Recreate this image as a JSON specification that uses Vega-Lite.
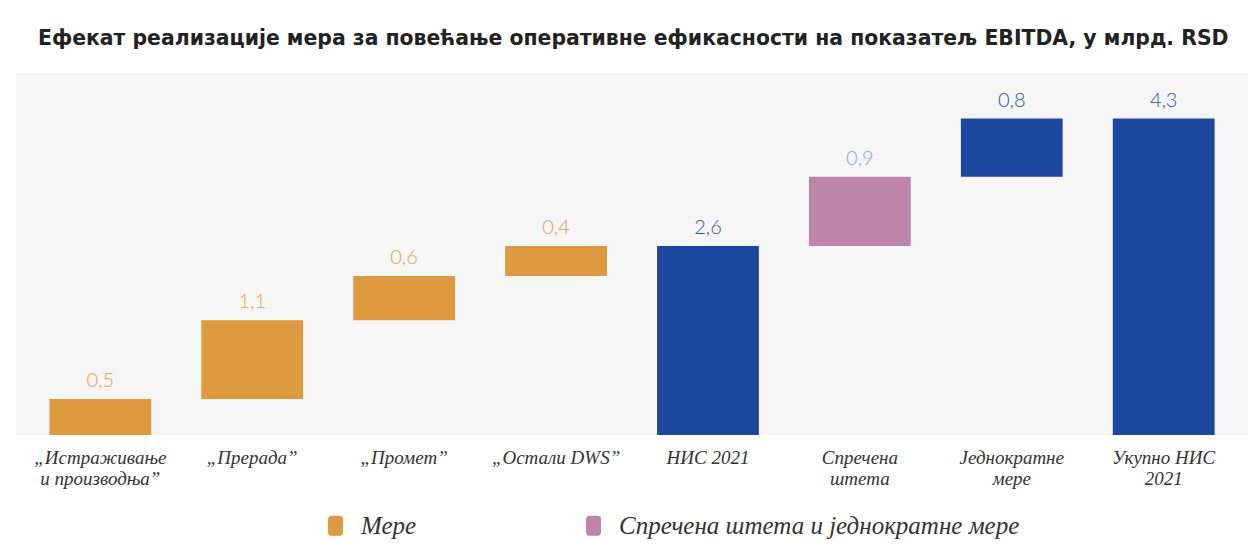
{
  "$schema": "https://vega.github.io/schema/vega-lite/v6.json",
  "width": 1232,
  "height": 362,
  "autosize": {"type": "none"},
  "padding": {"left": 16, "top": 73, "right": 1, "bottom": 117},
  "background": "#ffffff",
  "title": {
    "text": "Ефекат реализације мера за повећање оперативне ефикасности на показатељ EBITDA, у млрд. RSD",
    "anchor": "start",
    "frame": "group",
    "dx": 22,
    "offset": 24,
    "font": "DejaVu Sans",
    "fontWeight": "bold",
    "fontSize": 20.4,
    "color": "#222222"
  },
  "config": {
    "view": {"fill": "#f5f6f5", "stroke": null}
  },
  "data": {
    "values": [
      {"cat": "„Истраживање|и производња”", "start": 0, "end": 0.49, "value": "0,5", "group": "Мере"},
      {"cat": "„Прерада”", "start": 0.49, "end": 1.56, "value": "1,1", "group": "Мере"},
      {"cat": "„Промет”", "start": 1.56, "end": 2.16, "value": "0,6", "group": "Мере"},
      {"cat": "„Остали DWS”", "start": 2.16, "end": 2.57, "value": "0,4", "group": "Мере"},
      {"cat": "НИС 2021", "start": 0, "end": 2.57, "value": "2,6", "group": "НИС"},
      {"cat": "Спречена|штета", "start": 2.57, "end": 3.51, "value": "0,9", "group": "Спречена штета и једнократне мере"},
      {"cat": "Једнократне|мере", "start": 3.51, "end": 4.3, "value": "0,8", "group": "Једнократне"},
      {"cat": "Укупно НИС|2021", "start": 0, "end": 4.3, "value": "4,3", "group": "Укупно"}
    ]
  },
  "encoding": {
    "x": {
      "field": "cat",
      "type": "nominal",
      "sort": null,
      "scale": {"paddingInner": 0.33, "paddingOuter": 0.22},
      "axis": {
        "title": null,
        "domain": false,
        "ticks": false,
        "labelAngle": 0,
        "labelPadding": 13,
        "labelFont": "Liberation Serif",
        "labelFontStyle": "italic",
        "labelFontSize": 19,
        "labelColor": "#333333",
        "labelLineHeight": 21,
        "labelExpr": "split(datum.label, '|')"
      }
    }
  },
  "layer": [
    {
      "mark": {"type": "bar", "opacity": 1},
      "encoding": {
        "y": {
          "field": "start",
          "type": "quantitative",
          "scale": {"domain": [0, 4.92], "nice": false},
          "axis": null
        },
        "y2": {"field": "end"},
        "color": {
          "field": "group",
          "type": "nominal",
          "scale": {
            "domain": ["Мере", "Спречена штета и једнократне мере", "НИС", "Једнократне", "Укупно"],
            "range": ["#df9a40", "#bd86a8", "#1b479e", "#1b479e", "#1b479e"]
          },
          "legend": {
            "values": ["Мере", "Спречена штета и једнократне мере"],
            "title": null,
            "orient": "none",
            "legendX": 307,
            "legendY": 440,
            "direction": "horizontal",
            "columnPadding": 164,
            "symbolType": "M-0.75,-0.6 Q-0.75,-1 -0.4,-1 L0.4,-1 Q0.75,-1 0.75,-0.6 L0.75,0.6 Q0.75,1 0.4,1 L-0.4,1 Q-0.75,1 -0.75,0.6 Z",
            "symbolSize": 400,
            "symbolStrokeWidth": 0,
            "symbolOpacity": 1,
            "labelFont": "Liberation Serif",
            "labelFontStyle": "italic",
            "labelFontSize": 25,
            "labelLimit": 600,
            "labelColor": "#333333",
            "labelOffset": 13
          }
        }
      }
    },
    {
      "mark": {"type": "text", "baseline": "bottom", "dy": -8, "font": "Lato", "fontWeight": 300, "fontSize": 20},
      "encoding": {
        "y": {"field": "end", "type": "quantitative"},
        "text": {"field": "value"},
        "color": {
          "field": "group",
          "type": "nominal",
          "scale": {
            "domain": ["Мере", "Спречена штета и једнократне мере", "НИС", "Једнократне", "Укупно"],
            "range": ["#e3a252", "#8fa6d6", "#2f55a6", "#2f55a6", "#2f55a6"]
          },
          "legend": null
        }
      }
    }
  ],
  "resolve": {"scale": {"color": "independent"}}
}
